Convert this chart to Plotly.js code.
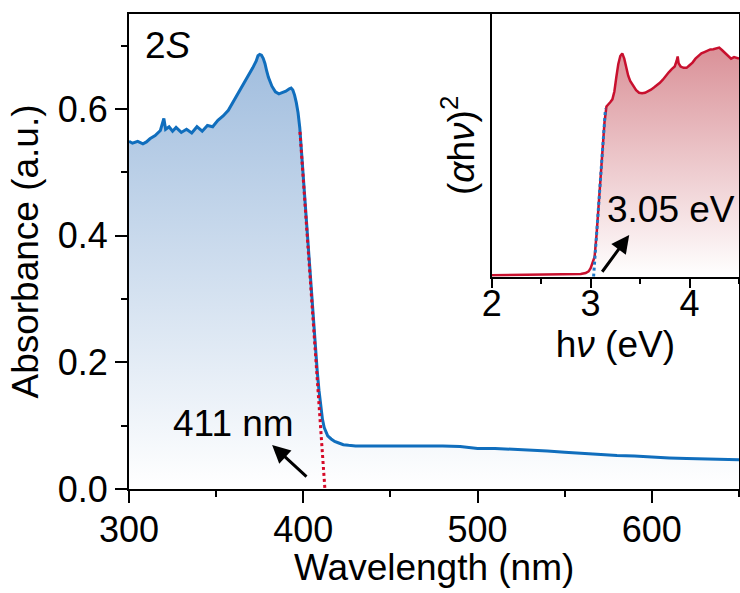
<!DOCTYPE html>
<html>
<head>
<meta charset="utf-8">
<script src="https://cdn.plot.ly/plotly-3.0.1.min.js"></script>
<style>html,body{margin:0;padding:0;background:#fff;}#chart{width:740px;height:593px;}</style>
</head>
<body>
<div id="chart"></div>
<script>
// ---- Main spectrum: wavelength (nm) vs absorbance (a.u.) ----
const wavelength = [300,302,305,308,310,312,315,318,320,321,323,325,327,330,333,336,339,342,345,348,351,354,357,360,363,366,369,371,373,374,375,376,377,378,379,380,382,384,386,388,390,392,393,394,395,396,397,398,399,400,401,402,403,404,405,406,407,408,409,410,411,412,413,414,416,418,420,423,426,430,440,450,460,470,480,490,500,510,520,530,540,550,560,570,580,590,600,610,620,630,640,650];
const absorbance = [0.549,0.546,0.549,0.545,0.548,0.553,0.558,0.566,0.585,0.568,0.572,0.565,0.571,0.563,0.568,0.562,0.572,0.565,0.574,0.572,0.582,0.589,0.598,0.612,0.628,0.642,0.655,0.665,0.676,0.684,0.686,0.685,0.680,0.672,0.660,0.650,0.636,0.627,0.624,0.626,0.628,0.632,0.633,0.630,0.622,0.610,0.594,0.570,0.530,0.490,0.452,0.412,0.373,0.334,0.295,0.257,0.220,0.186,0.156,0.130,0.110,0.097,0.089,0.084,0.079,0.075,0.073,0.070,0.069,0.068,0.068,0.068,0.069,0.068,0.068,0.067,0.064,0.064,0.063,0.061,0.060,0.058,0.056,0.055,0.053,0.052,0.050,0.049,0.048,0.047,0.046,0.046];
// tangent (absorption edge) line
const edgeLineX = [398.1, 412.4];
const edgeLineY = [0.564, 0.0];

// ---- Inset: Tauc plot, photon energy (eV) vs (alpha h nu)^2 (normalised) ----
const energy = [2.0,2.2,2.4,2.6,2.8,2.9,2.95,2.98,3.0,3.02,3.04,3.06,3.08,3.10,3.12,3.14,3.16,3.18,3.20,3.22,3.24,3.26,3.28,3.30,3.32,3.34,3.36,3.38,3.40,3.43,3.46,3.49,3.52,3.55,3.58,3.61,3.64,3.67,3.70,3.73,3.76,3.79,3.82,3.85,3.87,3.88,3.89,3.91,3.94,3.97,4.00,4.03,4.06,4.09,4.12,4.15,4.18,4.21,4.24,4.27,4.30,4.33,4.36,4.39,4.42,4.45,4.48,4.5];
const tauc = [0.005,0.006,0.006,0.007,0.008,0.010,0.014,0.020,0.032,0.050,0.075,0.160,0.267,0.373,0.480,0.587,0.648,0.655,0.665,0.675,0.705,0.760,0.810,0.840,0.850,0.830,0.795,0.765,0.745,0.725,0.710,0.700,0.698,0.700,0.705,0.712,0.720,0.728,0.738,0.750,0.765,0.778,0.790,0.800,0.822,0.838,0.812,0.800,0.795,0.795,0.805,0.815,0.830,0.840,0.850,0.855,0.860,0.865,0.866,0.870,0.872,0.862,0.850,0.838,0.830,0.836,0.832,0.830];
const taucLineX = [3.03, 3.15];
const taucLineY = [0.0, 0.64];

// tick values
const xTicks = [300,400,500,600];
const yTicks = [0.0,0.2,0.4,0.6];
const x2Ticks = [2,3,4];

const BLUE = 'rgb(16,110,189)';
const RED = 'rgb(200,16,46)';
const FONT = 'Liberation Sans, Arial, sans-serif';
const FS = 36;
const TFS = 37;

const traces = [
  {x: wavelength, y: absorbance, type:'scatter', mode:'lines', fill:'tozeroy',
   fillgradient:{type:'vertical', start:0, stop:0.69, colorscale:[[0,'rgb(255,255,255)'],[1,'rgb(160,189,222)']]},
   line:{color:BLUE, width:3}, xaxis:'x', yaxis:'y', hoverinfo:'skip'},
  {x: edgeLineX, y: edgeLineY, type:'scatter', mode:'lines',
   line:{color:'rgb(214,10,40)', width:3, dash:'dot'}, xaxis:'x', yaxis:'y'},
  {x: energy, y: tauc, type:'scatter', mode:'lines', fill:'tozeroy',
   fillgradient:{type:'vertical', start:0, stop:0.87, colorscale:[[0,'rgb(255,255,255)'],[1,'rgb(218,145,152)']]},
   line:{color:RED, width:2.5}, xaxis:'x2', yaxis:'y2'},
  {x: taucLineX, y: taucLineY, type:'scatter', mode:'lines',
   line:{color:'rgb(30,120,200)', width:3, dash:'dot'}, xaxis:'x2', yaxis:'y2'}
];

const axisCommon = {
  showgrid:false, zeroline:false, showline:true, linecolor:'black', linewidth:2,
  ticks:'outside', tickcolor:'black', tickwidth:2, ticklen:12,
  tickfont:{family:FONT, size:FS, color:'black'}
};

const layout = {
  width:740, height:593,
  margin:{l:129, r:1, t:14, b:104},
  paper_bgcolor:'white', plot_bgcolor:'rgba(0,0,0,0)',
  showlegend:false,
  font:{family:FONT, size:FS, color:'black'},
  xaxis: Object.assign({}, axisCommon, {
    domain:[0,1], range:[300,650], tickvals:xTicks, mirror:true, ticklabelstandoff:-4,
    minor:{dtick:50, tick0:300, ticks:'outside', ticklen:6, tickwidth:2, tickcolor:'black'}
  }),
  yaxis: Object.assign({}, axisCommon, {
    domain:[0,1], range:[0,0.75], tickvals:yTicks, tickformat:'.1f', mirror:true,
    minor:{dtick:0.1, tick0:0, ticks:'outside', ticklen:6, tickwidth:2, tickcolor:'black'},
    title:{text:'Absorbance (a.u.)', font:{family:FONT, size:TFS}, standoff:8}
  }),
  xaxis2: Object.assign({}, axisCommon, {
    anchor:'y2', domain:[0.5946,1], range:[2,4.5], tickvals:x2Ticks, mirror:true, ticklen:9, ticklabelstandoff:-15,
    minor:{dtick:0.5, tick0:2, ticks:'outside', ticklen:5, tickwidth:2, tickcolor:'black'},
    title:{text:'h<i>ν</i> (eV)', font:{family:FONT, size:TFS}, standoff:2}
  }),
  yaxis2: Object.assign({}, axisCommon, {
    anchor:'x2', domain:[0.447,1], range:[0,1], showticklabels:false, ticks:'', mirror:true,
    title:{text:'(<i>α</i>h<i>ν</i>)<sup>2</sup>', font:{family:FONT, size:TFS}, standoff:4}
  }),
  annotations:[
    // x-axis title of the main plot
    {xref:'paper', yref:'paper', x:0.5, y:-0.166, text:'Wavelength (nm)', showarrow:false, xanchor:'center', yanchor:'middle', font:{family:FONT, size:TFS}},
    {xref:'x', yref:'y', x:308, y:0.70, text:'2<i>S</i>', showarrow:false, xanchor:'left', yanchor:'middle', font:{family:FONT, size:TFS}},
    {xref:'x', yref:'y', x:359.8, y:0.104, text:'411 nm', showarrow:false, xanchor:'center', yanchor:'middle', font:{family:FONT, size:TFS}},
    {xref:'x', yref:'y', axref:'x', ayref:'y', x:382.1, y:0.0695, ax:402.7, ay:0.0174, text:'', showarrow:true, arrowhead:2, arrowsize:1.2, arrowwidth:3, arrowcolor:'black'},
    {xref:'x2', yref:'y2', x:3.812, y:0.254, text:'3.05 eV', showarrow:false, xanchor:'center', yanchor:'middle', font:{family:FONT, size:TFS}},
    {xref:'x2', yref:'y2', axref:'x2', ayref:'y2', x:3.39, y:0.159, ax:3.106, ay:0.013, text:'', showarrow:true, arrowhead:2, arrowsize:1.2, arrowwidth:3, arrowcolor:'black'}
  ]
};

Plotly.newPlot('chart', traces, layout, {staticPlot:true, displayModeBar:false});
</script>
</body>
</html>
